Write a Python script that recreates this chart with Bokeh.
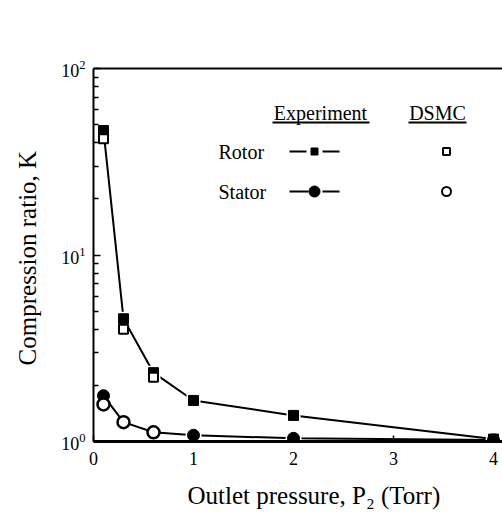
from bokeh.plotting import figure
from bokeh.models import Label, FixedTicker, LinearAxis, Title
from bokeh.embed import file_html
from bokeh.resources import INLINE

# ---- data ----
pressure_rotor_exp = [0.1, 0.3, 0.6, 1.0, 2.0, 4.0]
K_rotor_exp = [46.5, 4.55, 2.34, 1.66, 1.38, 1.03]
pressure_rotor_dsmc = [0.1, 0.3, 0.6]
K_rotor_dsmc = [42.0, 4.0, 2.21]

pressure_stator_exp = [0.1, 1.0, 2.0, 4.0]
K_stator_exp = [1.76, 1.08, 1.04, 1.02]
pressure_stator_dsmc = [0.1, 0.3, 0.6]
K_stator_dsmc = [1.58, 1.27, 1.12]
pressure_stator_line = [0.1, 0.3, 0.6, 1.0, 2.0, 4.0]
K_stator_line = [1.76, 1.27, 1.12, 1.08, 1.04, 1.02]

x_ticks = [0, 1, 2, 3, 4]
y_ticks = [1, 10, 100]
y_minor = [m * d for d in (1, 10) for m in range(2, 10)]

x_title = "Outlet pressure,  P\u2082 (Torr)"
y_title = "Compression ratio,  K"

FONT = "Liberation Serif"
W, H = 502, 521

p = figure(width=W, height=H, output_backend="svg", toolbar_location=None,
           y_axis_type="log", x_range=(0, 4.09), y_range=(1, 100),
           min_border_left=93, min_border_top=68, min_border_right=0,
           min_border_bottom=80)
p.outline_line_color = None
p.grid.visible = False
p.background_fill_color = "white"
p.border_fill_color = "white"

# axes
xa = p.xaxis[0]
xa.ticker = FixedTicker(ticks=x_ticks, minor_ticks=[])
xa.major_tick_in = 6
xa.major_tick_out = 0
xa.minor_tick_in = 0
xa.minor_tick_out = 0
xa.axis_line_width = 3
xa.axis_line_color = "black"
xa.major_tick_line_width = 1.5
xa.major_label_text_font = FONT
xa.major_label_text_font_size = "18px"
xa.major_label_text_color = "black"
xa.major_label_standoff = 10

ya = p.yaxis[0]
ya.ticker = FixedTicker(ticks=y_ticks, minor_ticks=y_minor)
ya.major_tick_in = 7
ya.major_tick_out = 0
ya.minor_tick_in = 5
ya.minor_tick_out = 0
ya.axis_line_width = 2
ya.major_tick_line_width = 1.5
ya.minor_tick_line_width = 1.5
ya.major_label_text_font = FONT
ya.major_label_text_font_size = "18px"
ya.major_label_text_color = "black"
ya.major_label_standoff = 8
ya.axis_label = y_title
ya.axis_label_text_font = FONT
ya.axis_label_text_font_size = "25px"
ya.axis_label_text_font_style = "normal"
ya.axis_label_text_color = "black"
ya.axis_label_standoff = 17

# x-axis title, positioned along the bottom
p.add_layout(Title(text=x_title, align="left", offset=94, standoff=25,
                   text_font=FONT, text_font_size="25px",
                   text_font_style="normal", text_color="black"), "below")

# top border as an empty axis
top = LinearAxis(ticker=FixedTicker(ticks=[], minor_ticks=[]),
                 major_tick_in=0, major_tick_out=0, minor_tick_in=0,
                 minor_tick_out=0, axis_line_width=2, axis_line_color="black")
p.add_layout(top, "above")

# ---- data marks ----
p.line(pressure_rotor_exp, K_rotor_exp, line_color="black", line_width=2)
p.line(pressure_stator_line, K_stator_line, line_color="black", line_width=2)

# white halos
p.scatter(pressure_rotor_exp, K_rotor_exp, marker="square", size=14,
          fill_color="white", line_color=None)
p.scatter(pressure_stator_exp, K_stator_exp, marker="circle", size=16,
          fill_color="white", line_color=None)

p.scatter(pressure_rotor_exp, K_rotor_exp, marker="square", size=10,
          fill_color="black", line_color="black")
p.scatter(pressure_stator_exp, K_stator_exp, marker="circle", size=12,
          fill_color="black", line_color="black")

p.scatter(pressure_rotor_dsmc, K_rotor_dsmc, marker="square", size=9,
          fill_color="white", line_color="black", line_width=2)
p.scatter(pressure_stator_dsmc, K_stator_dsmc, marker="circle", size=12,
          fill_color="white", line_color="black", line_width=2.5)

# ---- legend (data coordinates) ----
def dx(px):
    return (px - 93) / 100.0

def dy(py):
    return 10 ** ((441 - py) / 186.5)

y_rotor = dy(151)
y_stator = dy(191)
y_head = dy(112)
y_under = dy(122)

p.add_layout(Label(x=dx(320), y=y_head, text="Experiment", text_align="center",
                   text_baseline="middle", text_font=FONT, text_font_size="20px",
                   text_color="black"))
p.add_layout(Label(x=dx(437), y=y_head, text="DSMC", text_align="center",
                   text_baseline="middle", text_font=FONT, text_font_size="20px",
                   text_color="black"))
p.segment(x0=[dx(272), dx(408)], y0=[y_under, y_under],
          x1=[dx(369), dx(466)], y1=[y_under, y_under],
          line_color="black", line_width=2)

p.add_layout(Label(x=dx(218), y=y_rotor, text="Rotor", text_align="left",
                   text_baseline="middle", text_font=FONT, text_font_size="20px",
                   text_color="black"))
p.add_layout(Label(x=dx(218), y=y_stator, text="Stator", text_align="left",
                   text_baseline="middle", text_font=FONT, text_font_size="20px",
                   text_color="black"))

p.segment(x0=[dx(289), dx(322), dx(289), dx(322)],
          y0=[y_rotor, y_rotor, y_stator, y_stator],
          x1=[dx(306), dx(339), dx(308), dx(339)],
          y1=[y_rotor, y_rotor, y_stator, y_stator],
          line_color="black", line_width=2)
p.scatter([dx(314)], [y_rotor], marker="square", size=7, fill_color="black",
          line_color="black")
p.scatter([dx(314)], [y_stator], marker="circle", size=11, fill_color="black",
          line_color="black")
p.scatter([dx(446)], [y_rotor], marker="square", size=7, fill_color="white",
          line_color="black", line_width=2)
p.scatter([dx(446)], [y_stator], marker="circle", size=9, fill_color="white",
          line_color="black", line_width=2)

open("out.html", "w").write(file_html(p, INLINE))
